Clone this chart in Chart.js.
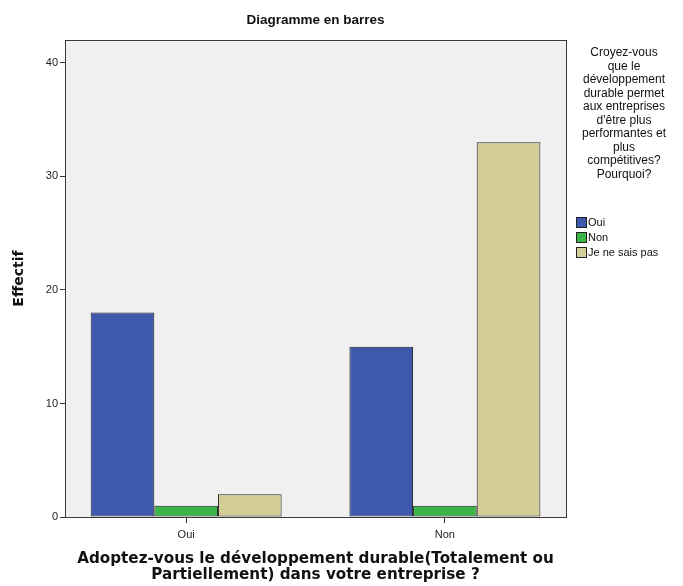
<!DOCTYPE html>
<html>
<head>
<meta charset="utf-8">
<script src="https://cdn.jsdelivr.net/npm/chart.js@4"></script>
<style>
  html, body { margin: 0; padding: 0; background: #fff; }
  #wrap { width: 683px; height: 586px; }
</style>
</head>
<body>
<div id="wrap"><canvas id="myChart" width="683" height="586"></canvas></div>
<script>
const categories = ['Oui', 'Non'];
const seriesLabels = ['Oui', 'Non', 'Je ne sais pas'];
const ouiValues = [18, 15];
const nonValues = [1, 1];
const nspValues = [2, 33];
const yTicks = [0, 10, 20, 30, 40];

const legendTitle = ['Croyez-vous', 'que le', 'développement', 'durable permet', 'aux entreprises',
  "d'être plus", 'performantes et', 'plus', 'compétitives?', 'Pourquoi?'];

const FONT = 'Liberation Sans, Arial, sans-serif';
const WIDE = 'DejaVu Sans, Verdana, sans-serif';

// plot background + frame + title over the plot
const plotFrame = {
    id: 'plotFrame',
    beforeDraw(chart) {
        const { ctx, chartArea: a } = chart;
        ctx.save();
        ctx.fillStyle = '#f0f0f0';
        ctx.fillRect(a.left, a.top, a.right - a.left, a.bottom - a.top);
        ctx.restore();
    },
    afterDatasetsDraw(chart) {
        const { ctx, chartArea: a } = chart;
        ctx.save();
        ctx.strokeStyle = '#3a3a3a';
        ctx.lineWidth = 1;
        ctx.strokeRect(Math.round(a.left) + 0.5, Math.round(a.top) + 0.5,
            Math.round(a.right - a.left), Math.round(a.bottom - a.top));
        ctx.fillStyle = '#111';
        ctx.font = 'bold 13.5px ' + FONT;
        ctx.textAlign = 'center';
        ctx.textBaseline = 'middle';
        ctx.fillText('Diagramme en barres', (a.left + a.right) / 2, 20);
        ctx.restore();
    }
};

// legend on the right, SPSS style
const sideLegend = {
    id: 'sideLegend',
    afterDraw(chart) {
        const { ctx } = chart;
        ctx.save();
        ctx.font = '12px ' + FONT;
        ctx.fillStyle = '#111';
        ctx.textAlign = 'center';
        ctx.textBaseline = 'middle';
        const cx = 624;
        let y = 53;
        legendTitle.forEach(line => { ctx.fillText(line, cx, y); y += 13.5; });
        y = 223;
        ctx.textAlign = 'left';
        ctx.font = '11px ' + FONT;
        chart.data.datasets.forEach(ds => {
            ctx.fillStyle = ds.backgroundColor;
            ctx.fillRect(576.5, y - 5.5, 10, 10);
            ctx.strokeStyle = '#222';
            ctx.lineWidth = 1;
            ctx.strokeRect(576.5, y - 5.5, 10, 10);
            ctx.fillStyle = '#111';
            ctx.fillText(ds.label, 588, y);
            y += 15;
        });
        ctx.restore();
    }
};

const toPoints = arr => arr.map((v, i) => ({ x: i, y: v }));

const data = {
    datasets: [
        { label: seriesLabels[0], data: toPoints(ouiValues), backgroundColor: '#3e58ac' },
        { label: seriesLabels[1], data: toPoints(nonValues), backgroundColor: '#3ab54a' },
        { label: seriesLabels[2], data: toPoints(nspValues), backgroundColor: '#d3ce98' }
    ].map(d => Object.assign(d, {
        borderColor: '#222',
        borderWidth: 1,
        borderSkipped: false,
        categoryPercentage: 0.738,
        barPercentage: 1.0
    }))
};

const config = {
    type: 'bar',
    data: data,
    options: {
        responsive: false,
        animation: false,
        devicePixelRatio: 1,
        layout: { padding: { top: 40, right: 117, left: 11, bottom: 3 } },
        plugins: {
            legend: { display: false },
            tooltip: { enabled: false },
            title: { display: false }
        },
        scales: {
            x: {
                type: 'linear',
                min: -0.468,
                max: 1.468,
                offset: false,
                afterBuildTicks(scale) { scale.ticks = categories.map((c, i) => ({ value: i })); },
                grid: { display: true, offset: false, drawOnChartArea: false, tickLength: 6, tickColor: '#333' },
                border: { color: '#333' },
                ticks: {
                    color: '#222', font: { family: FONT, size: 11 }, padding: 5.4,
                    callback: v => categories[v]
                },
                title: {
                    display: true,
                    text: ['Adoptez-vous le développement durable(Totalement ou',
                           'Partiellement) dans votre entreprise ?'],
                    color: '#111',
                    font: { family: WIDE, size: 15.2, weight: 'bold', lineHeight: 1.05 },
                    padding: { top: 4, bottom: 0 }
                }
            },
            y: {
                min: 0,
                max: 42,
                afterBuildTicks(scale) { scale.ticks = yTicks.map(v => ({ value: v })); },
                grid: { display: true, drawOnChartArea: false, tickLength: 5, tickColor: '#333' },
                border: { color: '#333' },
                ticks: { color: '#222', font: { family: FONT, size: 11 }, padding: 2 },
                title: {
                    display: true,
                    text: 'Effectif',
                    color: '#111',
                    font: { family: WIDE, size: 14, weight: 'bold' },
                    padding: { top: 0, bottom: 16 }
                }
            }
        }
    },
    plugins: [plotFrame, sideLegend]
};

const ctx = document.getElementById('myChart').getContext('2d');
new Chart(ctx, config);
</script>
</body>
</html>
